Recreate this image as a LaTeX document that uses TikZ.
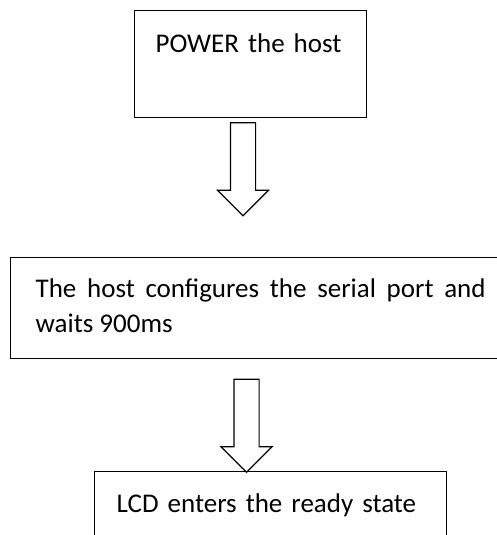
\documentclass[tikz,border=0pt]{standalone}
\usepackage{fontspec}
\setmainfont{Carlito}
\usetikzlibrary{shapes.arrows, positioning}
\tikzstyle{stepbox} = [rectangle, draw, line width=1.3pt, anchor=north west, inner ysep=0pt, font=\fontsize{27}{35}\selectfont]
\tikzstyle{blockarrow} = [single arrow, draw, line width=1.2pt, rotate=-90, inner xsep=0pt, inner ysep=12pt, minimum height=93pt, minimum width=50pt, single arrow head extend=13pt]

\begin{document}
\begin{tikzpicture}[x=1pt, y=-1pt]
  \useasboundingbox (0,0) rectangle (497,535);

  \node[stepbox, inner xsep=21pt, text width=190pt, align=left, text height=42pt, text depth=65pt] (power) at (134, 10) {POWER the host};
  \node[stepbox, inner xsep=25pt, text width=450pt, align=justify, text height=40pt, text depth=61pt] (config) at (10, 257) {The host configures the serial port and waits 900ms};
  \node[stepbox, inner xsep=22pt, text width=308pt, align=left, text height=41pt, text depth=45pt] (ready) at (94, 471) {LCD enters the ready state};

  % block arrows between the steps
  \node[blockarrow] (arrowA) at (243, 163) {};
  \node[blockarrow] (arrowB) at (246.5, 419.5) {};
\end{tikzpicture}
\end{document}
